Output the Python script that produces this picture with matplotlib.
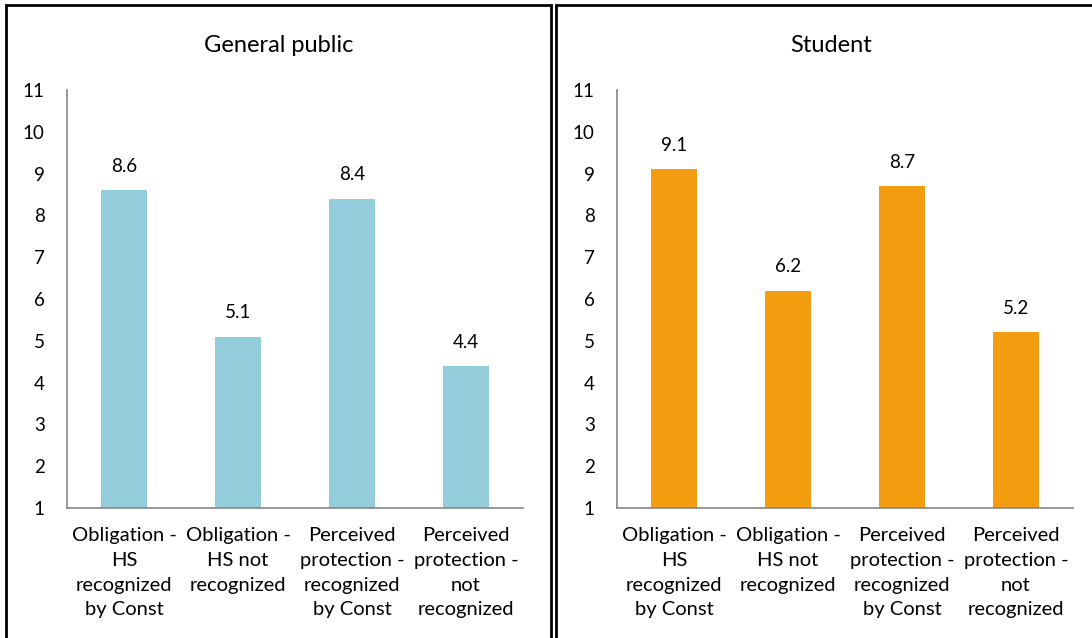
import matplotlib
matplotlib.use("Agg")
import matplotlib.pyplot as plt
from matplotlib.patches import Rectangle

categories = ["Obligation -\nHS\nrecognized\nby Const",
              "Obligation -\nHS not\nrecognized",
              "Perceived\nprotection -\nrecognized\nby Const",
              "Perceived\nprotection -\nnot\nrecognized"]
public_values = [8.6, 5.1, 8.4, 4.4]
student_values = [9.1, 6.2, 8.7, 5.2]
panel_titles = ["General public", "Student"]
yticks = list(range(1, 12))

W, H = 1092, 638
plt.rcParams['font.family'] = ['Lato', 'DejaVu Sans']
fig = plt.figure(figsize=(W / 100, H / 100), dpi=100)

def fx(px):
    return px / W

def fy(py):
    return 1 - py / H

panels = [
    dict(ax_left=67, title_x=279, border=(6, 551), values=public_values, color="#93CDDC", title=panel_titles[0]),
    dict(ax_left=617, title_x=831, border=(556, 1106), values=student_values, color="#F59D10", title=panel_titles[1]),
]

for p in panels:
    bx0, bx1 = p["border"]
    fig.patches.append(Rectangle((fx(bx0), fy(640)), fx(bx1 - bx0), fy(5) - fy(640),
                                 transform=fig.transFigure, fill=False,
                                 edgecolor="black", linewidth=2, zorder=0))
    ax = fig.add_axes([fx(p["ax_left"]), fy(508), fx(456), fy(90) - fy(508)])
    x = list(range(len(categories)))
    ax.bar(x, p["values"], width=0.4, color=p["color"], bottom=0)
    ax.set_ylim(1, 11)
    ax.set_xlim(-0.5, len(categories) - 0.5)
    ax.set_yticks(yticks)
    ax.set_yticklabels([str(t) for t in yticks], fontsize=13.5)
    ax.set_xticks(x)
    ax.set_xticklabels(categories, fontsize=14.5, linespacing=1.54, va="top")
    ax.tick_params(axis="y", length=0, pad=16)
    ax.tick_params(axis="x", length=0, pad=14)
    for s in ["top", "right"]:
        ax.spines[s].set_visible(False)
    for s in ["left", "bottom"]:
        ax.spines[s].set_color("#868686")
        ax.spines[s].set_linewidth(1.2)
    ax.patch.set_alpha(0)
    for xi, v in zip(x, p["values"]):
        ax.annotate(f"{v:.1f}", (xi, v), xytext=(0, 11), textcoords="offset points",
                    ha="center", va="bottom", fontsize=13.5)
    fig.text(fx(p["title_x"]), fy(45), p["title"], ha="center", va="center", fontsize=17)

fig.savefig("out.png", dpi=100)
